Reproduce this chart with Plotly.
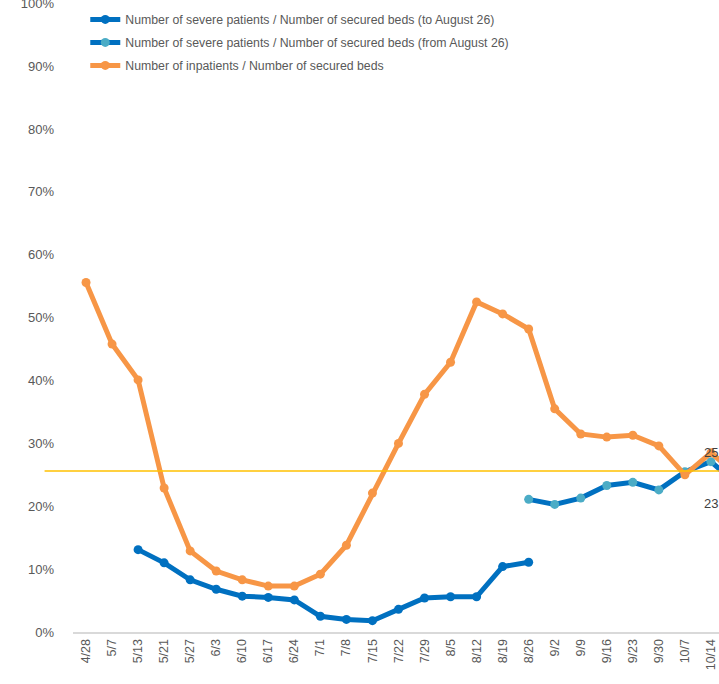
import plotly.graph_objects as go

# weekly dates (the last one is cut off at the right edge of the reference)
dates = ["4/28", "5/7", "5/13", "5/21", "5/27", "6/3", "6/10", "6/17", "6/24",
         "7/1", "7/8", "7/15", "7/22", "7/29", "8/5", "8/12", "8/19", "8/26",
         "9/2", "9/9", "9/16", "9/23", "9/30", "10/7", "10/14", "10/21"]

# Number of severe patients / Number of secured beds (to August 26)
severe_old = [None, None, 0.131, 0.110, 0.083, 0.068, 0.057, 0.055, 0.051,
              0.025, 0.020, 0.018, 0.036, 0.054, 0.056, 0.056, 0.104, 0.111,
              None, None, None, None, None, None, None, None]

# Number of severe patients / Number of secured beds (from August 26)
severe_new = [None] * 17 + [0.211, 0.203, 0.213, 0.233, 0.238, 0.226,
                            0.255, 0.271, 0.235]

# Number of inpatients / Number of secured beds
inpatients = [0.556, 0.458, 0.401, 0.229, 0.129, 0.097, 0.083, 0.073, 0.073,
              0.092, 0.138, 0.221, 0.300, 0.378, 0.429, 0.525, 0.506, 0.482,
              0.355, 0.315, 0.310, 0.313, 0.296, 0.250, 0.285, 0.250]

y_ticks = [0.0, 0.1, 0.2, 0.3, 0.4, 0.5, 0.6, 0.7, 0.8, 0.9, 1.0]
y_tick_text = ["0%", "10%", "20%", "30%", "40%", "50%", "60%", "70%", "80%",
               "90%", "100%"]

threshold = 0.256

BLUE = "#0070C0"
CYAN = "#4BACC6"
ORANGE = "#F79646"
GREY = "#595959"

fig = go.Figure()
fig.add_trace(go.Scatter(
    x=dates, y=severe_old, mode="lines+markers", legendgroup="a",
    name="Number of severe patients / Number of secured beds (to August 26)",
    line=dict(color=BLUE, width=5), marker=dict(color=BLUE, size=9),
))
fig.add_trace(go.Scatter(
    x=dates, y=severe_new, mode="lines+markers", legendgroup="b",
    name="Number of severe patients / Number of secured beds (from August 26)",
    line=dict(color=BLUE, width=5), marker=dict(color=CYAN, size=9),
))
fig.add_trace(go.Scatter(
    x=dates, y=inpatients, mode="lines+markers", legendgroup="c",
    name="Number of inpatients / Number of secured beds",
    line=dict(color=ORANGE, width=5), marker=dict(color=ORANGE, size=9),
))

# reference line
fig.add_shape(type="line", xref="paper", yref="y", x0=-0.044, x1=1.05,
              y0=threshold, y1=threshold, line=dict(color="#FFC000", width=1.5))

# data labels of the cut-off last week
fig.add_annotation(x="10/14", y=0.286, text="25", showarrow=False,
                   xanchor="left", xshift=-9, font=dict(size=13, color="#404040"))
fig.add_annotation(x="10/14", y=0.205, text="23", showarrow=False,
                   xanchor="left", xshift=-9, font=dict(size=13, color="#404040"))

fig.update_layout(
    width=719, height=684,
    margin=dict(l=73, r=0, t=3, b=52, autoexpand=False),
    paper_bgcolor="white", plot_bgcolor="white",
    font=dict(family="Liberation Sans, Arial, sans-serif", size=12, color=GREY),
    showlegend=True,
    legend=dict(x=0.019, y=0.997, xanchor="left", yanchor="top",
                bgcolor="rgba(0,0,0,0)", font=dict(size=12.3, color=GREY),
                tracegroupgap=4),
    xaxis=dict(type="category", range=[-0.5, 24.31], tickangle=-90,
               showgrid=False, showline=True, linecolor="#D9D9D9", linewidth=2,
               ticks="", tickfont=dict(size=12.5, color=GREY), zeroline=False,
               automargin=False, ticklabeloverflow="allow"),
    yaxis=dict(range=[0, 1.0005], tickvals=y_ticks, ticktext=y_tick_text,
               showgrid=False, showline=False, zeroline=False, ticks="",
               ticklabelstandoff=18, tickfont=dict(size=13, color=GREY),
               automargin=False, ticklabeloverflow="allow"),
)

fig.write_html("out.html", config={"displayModeBar": False},
               post_script="document.body.style.margin='0';")
